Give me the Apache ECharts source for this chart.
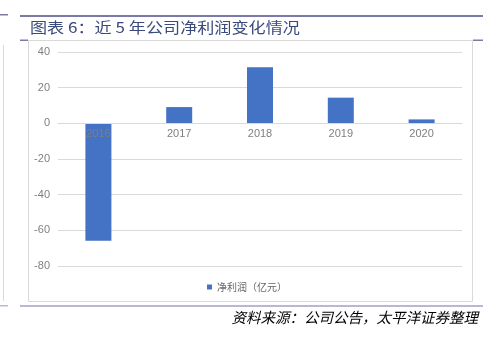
<!DOCTYPE html>
<html><head><meta charset="utf-8">
<script src="https://cdn.jsdelivr.net/npm/echarts@6/dist/echarts.min.js"></script>
<style>html,body{margin:0;padding:0;background:#fff}#c{width:494px;height:338px}</style>
</head><body><div id="c"></div>
<script>
const categories = ['2016', '2017', '2018', '2019', '2020'];
const netProfit = [-65.8, 9.1, 31.4, 14.4, 2.2];
const seriesName = '净利润（亿元）';
const yTicks = { min: -80, max: 40, interval: 20 };
const titleText = '图表 6：近 5 年公司净利润变化情况';
const sourceText = '资料来源：公司公告，太平洋证券整理';

const gridTop = 52, gridBottom = 72, H = 338;
const gridH = H - gridTop - gridBottom;
const zeroOffset = -gridH * (0 - yTicks.min) / (yTicks.max - yTicks.min);

const chart = echarts.init(document.getElementById('c'));
chart.setOption({
  animation: false,
  backgroundColor: '#fff',
  grid: { left: 58, right: 32, top: gridTop, bottom: gridBottom, containLabel: false },
  legend: {
    top: 277, left: 'center', itemWidth: 5, itemHeight: 5, icon: 'rect', itemGap: 3,
    textStyle: { color: '#666', fontSize: 10, fontFamily: 'Noto Sans CJK SC' }
  },
  xAxis: {
    type: 'category', data: categories, z: 5, offset: zeroOffset,
    axisLine: { onZero: false, lineStyle: { color: '#d9d9d9' } },
    axisTick: { show: false },
    axisLabel: { color: '#7f7f7f', fontSize: 11, fontFamily: 'Liberation Sans', margin: 5 }
  },
  yAxis: {
    type: 'value', min: yTicks.min, max: yTicks.max, interval: yTicks.interval,
    axisLine: { show: false }, axisTick: { show: false },
    axisLabel: { color: '#7f7f7f', fontSize: 11, fontFamily: 'Liberation Sans', margin: 8 },
    splitLine: { lineStyle: { color: '#d9d9d9' } }
  },
  series: [{
    name: seriesName, type: 'bar', data: netProfit, barWidth: 26,
    itemStyle: { color: '#4472c4' }
  }],
  graphic: [
    { type: 'rect', shape: { x: 20, y: 15, width: 463, height: 2 }, style: { fill: '#7a7aa6' } },
    { type: 'rect', shape: { x: 0, y: 14, width: 8, height: 1.5 }, style: { fill: '#7a7aa6' } },
    { type: 'text', x: 30, y: 20, scaleX: 1.14, style: { text: titleText, fill: '#3a4a7c', font: '15px "Noto Sans CJK SC"' } },
    { type: 'rect', shape: { x: 28.5, y: 40.5, width: 444, height: 261 }, style: { fill: 'none', stroke: '#d9d9d9', lineWidth: 1 } },
    { type: 'rect', shape: { x: 20, y: 39.5, width: 8, height: 1.5 }, style: { fill: '#7a7aa6' } },
    { type: 'rect', shape: { x: 473, y: 39.5, width: 10, height: 1.5 }, style: { fill: '#7a7aa6' } },
    { type: 'line', shape: { x1: 3.5, y1: 45, x2: 3.5, y2: 301 }, style: { stroke: '#d9d9d9', lineWidth: 1 } },
    { type: 'rect', shape: { x: 20, y: 305, width: 463, height: 2 }, style: { fill: '#b8b8d4' } },
    { type: 'rect', shape: { x: 0, y: 305, width: 8, height: 1.5 }, style: { fill: '#b8b8d4' } },
    { type: 'text', right: 16, top: 310, style: { text: sourceText, fill: '#000', font: 'italic 14.5px "Noto Sans CJK SC"' } }
  ]
});
</script></body></html>
